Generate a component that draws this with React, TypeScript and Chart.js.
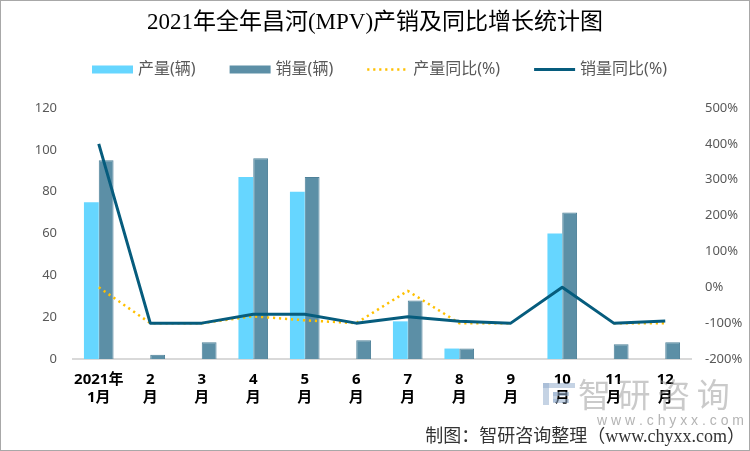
import React, { useEffect, useRef } from "react";
import { Chart, registerables } from "chart.js";

Chart.register(...registerables);

// ---------- data ----------
const categories: string[][] = [
  ["2021年", "1月"], ["2", "月"], ["3", "月"], ["4", "月"], ["5", "月"], ["6", "月"],
  ["7", "月"], ["8", "月"], ["9", "月"], ["10", "月"], ["11", "月"], ["12", "月"],
];
const production: number[] = [75, 0, 0, 87, 80, 0, 18, 5, 0, 60, 0, 0];
const sales: number[] = [95, 2, 8, 96, 87, 9, 28, 5, 0, 70, 7, 8];
const productionYoY: (number | null)[] = [0, -100, -100, -81, -92, -100, -10, -100, -100, null, -100, -100];
const salesYoY: number[] = [400, -100, -100, -75, -75, -100, -82, -95, -100, 0, -100, -94];
const seriesNames: string[] = ["产量(辆)", "销量(辆)", "产量同比(%)", "销量同比(%)"];
const leftAxis = { min: 0, max: 120, step: 20 };
const rightAxis = { min: -200, max: 500, step: 100 };
const titleText = "2021年全年昌河(MPV)产销及同比增长统计图";
const sourceText = "制图：智研咨询整理（www.chyxx.com）";
const watermarkName = "智研咨询";
const watermarkUrl = "w w w . c h y x x . c o m";

// ---------- styles ----------
const CJK = "'Noto Sans CJK SC'";
const SANS = `'Noto Sans', ${CJK}, sans-serif`;
const COLORS = {
  prod: "#66D6FF",
  sales: "#5C8FA6",
  salesBorder: "#4E8199",
  prodYoY: "#FFC000",
  salesYoY: "#065C7D",
  tick: "#595959",
};

const overlayPlugin = {
  id: "overlay",
  afterDraw(chart: any) {
    const ctx: CanvasRenderingContext2D = chart.ctx;
    const W = chart.width;
    ctx.save();

    // title
    ctx.fillStyle = "#000";
    ctx.font = `23px 'Liberation Serif', ${CJK}, serif`;
    ctx.textAlign = "center";
    ctx.textBaseline = "middle";
    ctx.fillText(titleText, 375, 23);

    // legend
    ctx.font = `16px ${SANS}`;
    ctx.textBaseline = "middle";
    ctx.textAlign = "left";
    const symW = 41, gapSym = 5, gapItem = 34, ly = 69.5;
    let x = 92;
    seriesNames.forEach((name, i) => {
      if (i === 0 || i === 1) {
        ctx.fillStyle = i === 0 ? COLORS.prod : COLORS.sales;
        ctx.fillRect(x, ly - 4, symW, 8);
      } else {
        ctx.beginPath();
        ctx.strokeStyle = i === 2 ? COLORS.prodYoY : COLORS.salesYoY;
        ctx.lineWidth = i === 2 ? 2.5 : 3;
        ctx.setLineDash(i === 2 ? [2.2, 3.8] : []);
        ctx.moveTo(x, ly);
        ctx.lineTo(x + symW, ly);
        ctx.stroke();
        ctx.setLineDash([]);
      }
      ctx.fillStyle = COLORS.tick;
      ctx.fillText(name, x + symW + gapSym, ly);
      x += symW + gapSym + ctx.measureText(name).width + gapItem;
    });

    // watermark
    ctx.fillStyle = "rgba(150,175,205,0.55)";
    ctx.fillRect(543, 383, 32, 5);
    ctx.fillRect(543, 383, 6, 22);
    ctx.fillRect(553, 392, 16, 4);
    ctx.fillRect(553, 392, 4, 10);
    ctx.fillRect(553, 399, 16, 4);
    ctx.textAlign = "left";
    ctx.textBaseline = "middle";
    ctx.fillStyle = "rgba(150,150,150,0.5)";
    ctx.font = `33px ${CJK}`;
    ctx.fillText(watermarkName.split("").join("\u2009"), 578, 394);
    ctx.fillStyle = "#b4b4b4";
    ctx.font = `14px 'Liberation Sans', sans-serif`;
    ctx.fillText(watermarkUrl, 597, 421);

    // source
    ctx.fillStyle = "#333";
    ctx.font = `18px 'Liberation Serif', ${CJK}, serif`;
    ctx.textAlign = "right";
    ctx.textBaseline = "middle";
    ctx.fillText(sourceText, 745, 437);

    // border
    ctx.strokeStyle = "#a8a8a8";
    ctx.lineWidth = 1;
    ctx.strokeRect(0.5, 0.5, W - 1, chart.height - 1);
    ctx.restore();
  },
};

export default function App() {
  const ref = useRef<HTMLCanvasElement | null>(null);

  useEffect(() => {
    if (!ref.current) return;
    const chart = new Chart(ref.current, {
      type: "bar",
      data: {
        labels: categories,
        datasets: [
          {
            type: "bar",
            label: seriesNames[0],
            data: production,
            backgroundColor: COLORS.prod,
            borderWidth: 0,
            yAxisID: "y",
            order: 2,
            categoryPercentage: 0.575,
            barPercentage: 1,
          },
          {
            type: "bar",
            label: seriesNames[1],
            data: sales,
            backgroundColor: COLORS.sales,
            borderColor: COLORS.salesBorder,
            borderWidth: 1,
            yAxisID: "y",
            order: 2,
            categoryPercentage: 0.575,
            barPercentage: 1,
          },
          {
            type: "line",
            label: seriesNames[2],
            data: productionYoY,
            borderColor: COLORS.prodYoY,
            borderWidth: 2.5,
            borderDash: [2.2, 3.8],
            pointRadius: 0,
            tension: 0,
            spanGaps: false,
            yAxisID: "y1",
            order: 1,
          },
          {
            type: "line",
            label: seriesNames[3],
            data: salesYoY,
            borderColor: COLORS.salesYoY,
            borderWidth: 3,
            borderJoinStyle: "round",
            pointRadius: 0,
            tension: 0,
            yAxisID: "y1",
            order: 0,
          },
        ] as any,
      },
      options: {
        responsive: false,
        animation: false,
        events: [],
        layout: { padding: { top: 108, left: 0, right: 0, bottom: 0 } },
        plugins: {
          legend: { display: false },
          title: { display: false },
          tooltip: { enabled: false },
        },
        scales: {
          x: {
            grid: { display: false, drawTicks: false },
            border: { display: true, color: "#d9d9d9", width: 2 },
            ticks: {
              color: "#000",
              font: { size: 15, weight: "bold", family: SANS },
              padding: 12,
              maxRotation: 0,
              autoSkip: false,
            },
            afterFit: (s: any) => {
              s.height = 92;
            },
          },
          y: {
            position: "left",
            min: leftAxis.min,
            max: leftAxis.max,
            grid: { display: false, drawTicks: false },
            border: { display: false },
            ticks: {
              stepSize: leftAxis.step,
              padding: 16,
              color: COLORS.tick,
              font: { size: 13, family: SANS },
            },
            afterFit: (s: any) => {
              s.width = 73;
            },
          },
          y1: {
            position: "right",
            min: rightAxis.min,
            max: rightAxis.max,
            grid: { display: false, drawTicks: false },
            border: { display: false },
            ticks: {
              stepSize: rightAxis.step,
              padding: 14,
              color: COLORS.tick,
              font: { size: 13, family: SANS },
              callback: (v: any) => `${v}%`,
            },
            afterFit: (s: any) => {
              s.width = 59;
            },
          },
        },
      } as any,
      plugins: [overlayPlugin],
    });
    return () => chart.destroy();
  }, []);

  return (
    <div style={{ position: "absolute", left: 0, top: 0, width: 750, height: 451, background: "#fff" }}>
      <canvas ref={ref} width={750} height={451} style={{ display: "block" }} />
    </div>
  );
}
